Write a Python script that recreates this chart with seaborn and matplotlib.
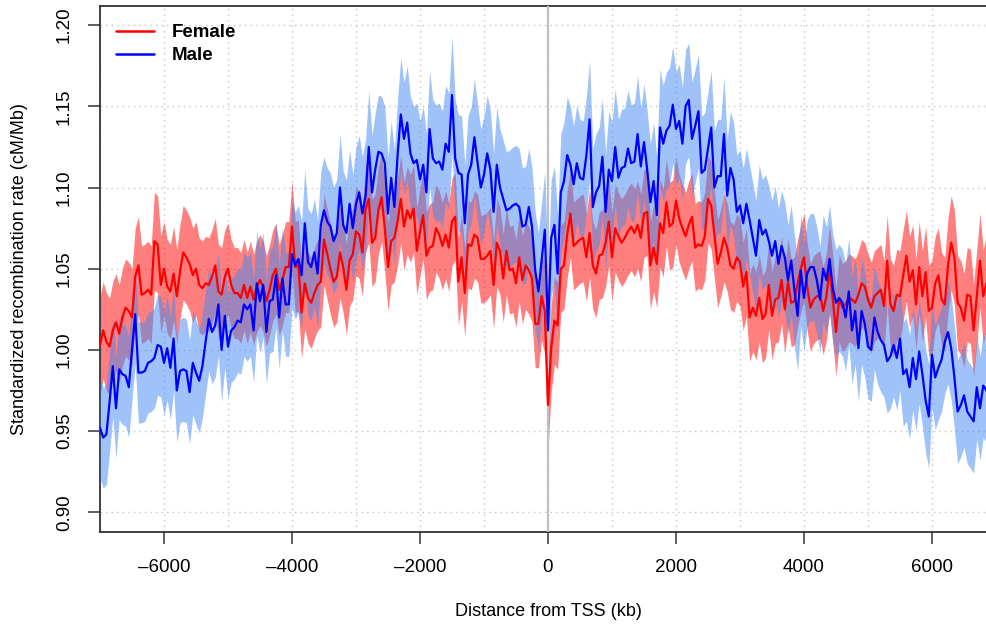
import numpy as np
import pandas as pd
import matplotlib
matplotlib.use("Agg")
import matplotlib.pyplot as plt
from matplotlib.lines import Line2D
from matplotlib.ticker import MultipleLocator
import seaborn as sns

# ---------------- data ----------------
distance_kb = np.arange(-7000, 6901, 50)

female_rate = [
    # -7000 .. -4700
    1.003, 1.012, 1.005, 1.002, 1.012, 1.017, 1.010, 1.020, 1.026, 1.024,
    1.020, 1.045, 1.052, 1.034, 1.035, 1.037, 1.034, 1.067, 1.065, 1.040,
    1.050, 1.039, 1.036, 1.047, 1.033, 1.048, 1.060, 1.057, 1.053, 1.046,
    1.050, 1.040, 1.038, 1.041, 1.040, 1.045, 1.052, 1.036, 1.034, 1.045,
    1.050, 1.040, 1.035, 1.035, 1.032, 1.040, 1.032,
    # -4650 .. -2450
    1.039, 1.031, 1.039, 1.043, 1.039, 1.030, 1.037, 1.046, 1.050, 1.037,
    1.043, 1.051, 1.051, 1.076, 1.051, 1.052, 1.023, 1.041, 1.032, 1.029,
    1.035, 1.040, 1.042, 1.068, 1.059, 1.050, 1.042, 1.045, 1.060, 1.051,
    1.037, 1.055, 1.059, 1.073, 1.071, 1.060, 1.087, 1.093, 1.066, 1.069,
    1.086, 1.094, 1.075, 1.051, 1.067,
    # -2400 .. -50
    1.069, 1.079, 1.093, 1.076, 1.086, 1.081, 1.087, 1.061, 1.073, 1.083,
    1.058, 1.063, 1.064, 1.075, 1.071, 1.064, 1.071, 1.063, 1.079, 1.082,
    1.042, 1.057, 1.035, 1.065, 1.064, 1.071, 1.069, 1.056, 1.056, 1.058,
    1.061, 1.040, 1.066, 1.061, 1.044, 1.061, 1.049, 1.050, 1.041, 1.057,
    1.043, 1.052, 1.049, 1.044, 1.016, 1.016, 1.033, 1.024,
    # 0 .. 2350
    0.966, 1.001, 1.018, 1.015, 1.050, 1.052, 1.071, 1.084, 1.064, 1.066,
    1.068, 1.069, 1.057, 1.072, 1.052, 1.047, 1.058, 1.059, 1.066, 1.079,
    1.057, 1.075, 1.070, 1.066, 1.069, 1.073, 1.076, 1.072, 1.077, 1.069,
    1.084, 1.085, 1.052, 1.063, 1.053, 1.078, 1.072, 1.091, 1.076, 1.078,
    1.092, 1.081, 1.075, 1.070, 1.077, 1.082, 1.063, 1.065,
    # 2400 .. 4700
    1.064, 1.070, 1.093, 1.089, 1.071, 1.053, 1.060, 1.069, 1.063, 1.052,
    1.050, 1.057, 1.054, 1.039, 1.048, 1.020, 1.026, 1.021, 1.032, 1.019,
    1.022, 1.040, 1.021, 1.031, 1.032, 1.043, 1.025, 1.042, 1.029, 1.030,
    1.041, 1.050, 1.057, 1.039, 1.026, 1.031, 1.033, 1.034, 1.024, 1.033,
    1.050, 1.031, 1.011, 1.032, 1.026, 1.028, 1.032,
    # 4750 .. 6900
    1.031, 1.029, 1.034, 1.041, 1.039, 1.031, 1.026, 1.033, 1.035, 1.037,
    1.027, 1.055, 1.028, 1.024, 1.034, 1.033, 1.046, 1.058, 1.042, 1.049,
    1.028, 1.051, 1.033, 1.048, 1.024, 1.026, 1.041, 1.046, 1.031, 1.028,
    1.052, 1.066, 1.057, 1.029, 1.026, 1.018, 1.034, 1.033, 1.012, 1.033,
    1.055, 1.033, 1.041, 1.043,
]

male_rate = [
    # -7000 .. -4700
    0.952, 0.946, 0.948, 0.968, 0.990, 0.964, 0.988, 0.985, 0.984, 0.977,
    1.000, 1.022, 0.986, 0.986, 0.987, 0.992, 0.993, 0.995, 1.003, 1.002,
    0.992, 1.001, 0.989, 1.007, 0.975, 0.987, 0.988, 0.987, 0.974, 0.992,
    0.986, 0.981, 0.990, 1.005, 1.019, 1.011, 1.015, 1.028, 1.000, 1.021,
    1.002, 1.012, 1.014, 1.018, 1.017, 1.028, 1.025,
    # -4650 .. -2450
    1.028, 1.012, 1.041, 1.030, 1.040, 1.011, 1.030, 1.031, 1.046, 1.020,
    1.044, 1.028, 1.028, 1.059, 1.052, 1.056, 1.046, 1.078, 1.054, 1.051,
    1.060, 1.047, 1.077, 1.086, 1.079, 1.076, 1.067, 1.072, 1.100, 1.077,
    1.072, 1.090, 1.075, 1.090, 1.097, 1.084, 1.095, 1.125, 1.097, 1.111,
    1.122, 1.121, 1.115, 1.084, 1.106,
    # -2400 .. -50
    1.088, 1.120, 1.145, 1.130, 1.140, 1.121, 1.115, 1.117, 1.105, 1.114,
    1.097, 1.136, 1.118, 1.115, 1.116, 1.111, 1.127, 1.122, 1.157, 1.118,
    1.109, 1.108, 1.078, 1.108, 1.114, 1.131, 1.115, 1.100, 1.108, 1.121,
    1.111, 1.085, 1.114, 1.100, 1.093, 1.086, 1.087, 1.089, 1.090, 1.088,
    1.076, 1.077, 1.088, 1.076, 1.049, 1.036, 1.055, 1.074,
    # 0 .. 2350
    1.012, 1.069, 1.077, 1.047, 1.097, 1.104, 1.120, 1.114, 1.102, 1.115,
    1.106, 1.105, 1.120, 1.142, 1.088, 1.097, 1.101, 1.119, 1.085, 1.111,
    1.104, 1.125, 1.106, 1.112, 1.113, 1.124, 1.115, 1.116, 1.133, 1.113,
    1.128, 1.111, 1.091, 1.104, 1.083, 1.137, 1.127, 1.135, 1.138, 1.151,
    1.136, 1.141, 1.127, 1.150, 1.154, 1.130, 1.138, 1.147,
    # 2400 .. 4700
    1.109, 1.111, 1.124, 1.137, 1.100, 1.107, 1.107, 1.133, 1.095, 1.112,
    1.105, 1.085, 1.089, 1.078, 1.090, 1.080, 1.069, 1.058, 1.080, 1.071,
    1.074, 1.067, 1.058, 1.067, 1.053, 1.064, 1.057, 1.043, 1.055, 1.037,
    1.021, 1.049, 1.032, 1.047, 1.051, 1.051, 1.043, 1.031, 1.050, 1.043,
    1.056, 1.038, 1.029, 1.032, 1.029, 1.020, 1.036,
    # 4750 .. 6900
    1.012, 1.024, 1.001, 1.024, 1.016, 1.002, 1.000, 1.020, 1.011, 1.006,
    1.003, 0.993, 0.996, 1.003, 0.995, 1.007, 0.985, 0.988, 0.977, 0.995,
    0.982, 0.999, 0.985, 0.969, 0.959, 0.997, 0.983, 0.989, 0.994, 1.005,
    1.011, 1.001, 0.983, 0.962, 0.966, 0.972, 0.962, 0.959, 0.956, 0.977,
    0.964, 0.978, 0.975, 0.972,
]

# confidence band half-widths, one value per 1000-kb block (-7000 .. 6000)
female_halfwidth = [0.030, 0.029, 0.028, 0.028, 0.027, 0.027, 0.027,
                    0.027, 0.027, 0.027, 0.027, 0.027, 0.028, 0.029]
male_halfwidth = [0.031, 0.032, 0.032, 0.033, 0.035, 0.036, 0.036,
                  0.036, 0.036, 0.035, 0.034, 0.033, 0.032, 0.032]

series_labels = ["Female", "Male"]
x_ticks = [-6000, -4000, -2000, 0, 2000, 4000, 6000]
y_ticks = [0.90, 0.95, 1.00, 1.05, 1.10, 1.15, 1.20]

assert len(female_rate) == len(distance_kb) == len(male_rate)

# ---------------- figure ----------------
sns.set_theme(style="white")
plt.rcParams["font.family"] = ["Liberation Sans", "DejaVu Sans"]
plt.rcParams["text.color"] = "black"

W, H = 987, 628
fig = plt.figure(figsize=(W / 100, H / 100), dpi=100)
ax = fig.add_axes([100 / W, (H - 531.7) / H, 896 / W, 526 / H])

f = np.asarray(female_rate)
m = np.asarray(male_rate)
n = len(distance_kb)
fhw = np.repeat(female_halfwidth, 20)[:n]
mhw = np.repeat(male_halfwidth, 20)[:n]

RED = "#FF0000"
BLUE = "#0000FF"
ax.fill_between(distance_kb, f - fhw, f + fhw, color=(1, 0, 0), alpha=0.5,
                lw=0, zorder=2)
ax.fill_between(distance_kb, m - mhw, m + mhw,
                color=(65 / 255, 137 / 255, 245 / 255), alpha=0.5,
                lw=0, zorder=3)
ax.axvline(0, color="#C0C0C0", lw=1.6, zorder=4)

df = pd.DataFrame({
    "distance": np.concatenate([distance_kb, distance_kb]),
    "rate": np.concatenate([f, m]),
    "sex": [series_labels[0]] * n + [series_labels[1]] * n,
})
sns.lineplot(data=df, x="distance", y="rate", hue="sex",
             palette={"Female": RED, "Male": BLUE}, estimator=None,
             sort=False, lw=1.6, legend=False, ax=ax, zorder=5)

ax.set_xlim(-7000, 7000)
ax.set_ylim(0.888, 1.212)

ax.set_xticks(x_ticks)
ax.set_xticklabels([f"{v}".replace("-", "\u2013") for v in x_ticks])
ax.xaxis.set_minor_locator(MultipleLocator(1000))
ax.set_yticks(y_ticks)
ax.set_yticklabels([f"{v:.2f}" for v in y_ticks], rotation=90, va="center")

ax.set_axisbelow(True)
ax.grid(which="both", axis="x", ls=(0, (1, 3)), color="#C4C4C4", lw=1.0)
ax.grid(which="major", axis="y", ls=(0, (1, 3)), color="#C4C4C4", lw=1.0)

ax.tick_params(axis="both", which="major", length=8.6, width=1.1,
               color="#333333", labelsize=13.5, labelcolor="black",
               direction="out", bottom=True, left=True)
ax.tick_params(axis="x", which="major", pad=11)
ax.tick_params(axis="y", which="major", pad=11)
ax.tick_params(which="minor", length=0)

for side in ["left", "bottom", "top"]:
    ax.spines[side].set_visible(True)
    ax.spines[side].set_color("#333333")
    ax.spines[side].set_linewidth(1.3)
ax.spines["right"].set_visible(False)

ax.set_xlabel("")
ax.set_ylabel("")
fig.text(548 / W, 1 - 612 / H, "Distance from TSS (kb)", ha="center",
         va="center", fontsize=13, color="black")
fig.text(20 / W, 1 - 269 / H, "Standardized recombination rate (cM/Mb)",
         ha="center", va="center", rotation=90, fontsize=13, color="black")

handles = [Line2D([0], [0], color=RED, lw=1.8),
           Line2D([0], [0], color=BLUE, lw=1.8)]
leg = ax.legend(handles, series_labels, loc="upper left",
                bbox_to_anchor=(16 / 896, 1 - (24 - 5.7) / 526),
                frameon=False, borderaxespad=0, borderpad=0,
                handlelength=2.05, handletextpad=0.95, labelspacing=0.32,
                prop={"weight": "bold", "size": 13.5})
for t in leg.get_texts():
    t.set_color("black")

fig.savefig("out.png", dpi=100)
